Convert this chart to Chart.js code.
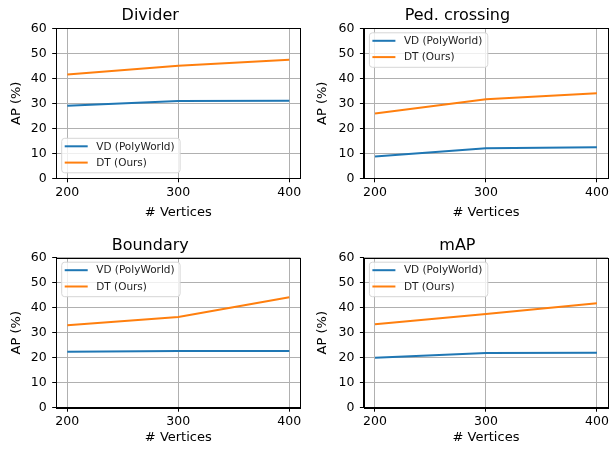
<!DOCTYPE html>
<html>
<head>
<meta charset="utf-8">
<script src="https://cdn.jsdelivr.net/npm/chart.js@4.4.1/dist/chart.umd.min.js"></script>
<style>
  html, body { margin: 0; padding: 0; background: #ffffff; }
  #wrap { position: relative; width: 612px; height: 450px; overflow: hidden; background: #fff; }
  canvas { position: absolute; }
</style>
</head>
<body>
<div id="wrap">
  <canvas id="c1" width="306" height="225" style="left:0px;top:0px;width:306px;height:225px"></canvas>
  <canvas id="c2" width="306" height="225" style="left:306px;top:0px;width:306px;height:225px"></canvas>
  <canvas id="c3" width="306" height="225" style="left:0px;top:225px;width:306px;height:225px"></canvas>
  <canvas id="c4" width="306" height="225" style="left:306px;top:225px;width:306px;height:225px"></canvas>
</div>
<script>
// ---- data ----
const vertices = [200, 300, 400];
const yTickValues = [0, 10, 20, 30, 40, 50, 60];
const seriesNames = ['VD (PolyWorld)', 'DT (Ours)'];
const panelTitles = ['Divider', 'Ped. crossing', 'Boundary', 'mAP'];

const dividerVD = [29.0, 30.9, 31.0];
const dividerDT = [41.5, 45.0, 47.4];
const pedVD = [8.7, 12.0, 12.4];
const pedDT = [25.9, 31.6, 34.0];
const boundaryVD = [22.4, 22.7, 22.7];
const boundaryDT = [33.0, 36.3, 44.2];
const mapVD = [20.0, 21.9, 22.0];
const mapDT = [33.4, 37.5, 41.8];

const xLabel = '# Vertices';
const yLabel = 'AP (%)';

// ---- styling ----
const FONT = 'DejaVu Sans';
const BLUE = '#1f77b4';
const ORANGE = '#ff7f0e';

const frameLegendPlugin = {
  id: 'frameLegend',
  afterDatasetsDraw(chart, args, opts) {
    const ctx = chart.ctx;
    const a = chart.chartArea;
    ctx.save();
    // all four spines
    ctx.strokeStyle = '#000';
    ctx.lineWidth = 1;
    ctx.strokeRect(Math.round(a.left) + 0.5, Math.round(a.top) + 0.5,
                   Math.round(a.right) - Math.round(a.left), Math.round(a.bottom) - Math.round(a.top));
    // legend
    const fs = 10.5;
    ctx.font = fs + 'px "' + FONT + '"';
    const ds = chart.data.datasets;
    let maxW = 0;
    ds.forEach(d => { maxW = Math.max(maxW, ctx.measureText(d.label).width); });
    const bw = 34.5 + maxW + 5.5;
    const bh = 34.5;
    const bx = a.left + 5.5;
    const by = opts.pos === 'lower' ? a.bottom - 5.5 - bh : a.top + 4.5;
    const r = 3;
    ctx.beginPath();
    ctx.moveTo(bx + r, by);
    ctx.lineTo(bx + bw - r, by);
    ctx.arcTo(bx + bw, by, bx + bw, by + r, r);
    ctx.lineTo(bx + bw, by + bh - r);
    ctx.arcTo(bx + bw, by + bh, bx + bw - r, by + bh, r);
    ctx.lineTo(bx + r, by + bh);
    ctx.arcTo(bx, by + bh, bx, by + bh - r, r);
    ctx.lineTo(bx, by + r);
    ctx.arcTo(bx, by, bx + r, by, r);
    ctx.closePath();
    ctx.fillStyle = 'rgba(255,255,255,0.8)';
    ctx.fill();
    ctx.strokeStyle = '#d6d6d6';
    ctx.lineWidth = 1;
    ctx.stroke();
    ds.forEach((d, i) => {
      const cy = by + 8 + i * 16.3;
      ctx.strokeStyle = d.borderColor;
      ctx.lineWidth = 2;
      ctx.beginPath();
      ctx.moveTo(bx + 3, cy);
      ctx.lineTo(bx + 26, cy);
      ctx.stroke();
      ctx.fillStyle = '#222';
      ctx.textBaseline = 'middle';
      ctx.textAlign = 'left';
      ctx.fillText(d.label, bx + 34.5, cy + 0.5);
    });
    ctx.restore();
  }
};

function toPoints(vals) {
  return vertices.map((v, i) => ({ x: v, y: vals[i] }));
}

function makePanel(id, title, vd, dt, legendPos, g) {
  const canvas = document.getElementById(id);
  const W = canvas.width, H = canvas.height;
  new Chart(canvas, {
    type: 'line',
    data: {
      datasets: [
        { label: seriesNames[0], data: toPoints(vd), borderColor: BLUE, backgroundColor: BLUE,
          borderWidth: 2, pointRadius: 0, tension: 0, fill: false },
        { label: seriesNames[1], data: toPoints(dt), borderColor: ORANGE, backgroundColor: ORANGE,
          borderWidth: 2, pointRadius: 0, tension: 0, fill: false }
      ]
    },
    options: {
      responsive: false,
      animation: false,
      devicePixelRatio: 1,
      layout: { padding: { left: 0, right: W - g.right, top: 0, bottom: 0 } },
      plugins: {
        legend: { display: false },
        tooltip: { enabled: false },
        title: {
          display: true, text: title, color: '#000',
          font: { family: FONT, size: 16, weight: 'normal' },
          padding: { top: g.titleTop, bottom: g.top - g.titleTop - 19.2 }
        },
        frameLegend: { pos: legendPos }
      },
      scales: {
        x: {
          type: 'linear', min: 190, max: 410,
          afterBuildTicks: s => { s.ticks = vertices.map(v => ({ value: v })); },
          afterFit: s => { s.height = H - g.bottom; },
          ticks: { color: '#000', font: { family: FONT, size: 12.5 }, padding: 3, maxRotation: 0, autoSkip: false },
          grid: { color: '#b0b0b0', lineWidth: 1, tickColor: '#000', tickLength: 4, tickWidth: 1 },
          border: { display: true, color: '#000', width: 1 },
          title: { display: true, text: xLabel, color: '#000', font: { family: FONT, size: 13 },
                   padding: { top: 0, bottom: 4.5 } }
        },
        y: {
          type: 'linear', min: 0, max: 60,
          afterBuildTicks: s => { s.ticks = yTickValues.map(v => ({ value: v })); },
          afterFit: s => { s.width = g.left; },
          ticks: { color: '#000', font: { family: FONT, size: 12.5 }, padding: 5.5 },
          grid: { color: '#b0b0b0', lineWidth: 1, tickColor: '#000', tickLength: 4, tickWidth: 1 },
          border: { display: true, color: '#000', width: 1 },
          title: { display: true, text: yLabel, color: '#000', font: { family: FONT, size: 13 },
                   padding: { top: 9, bottom: 0 } }
        }
      }
    },
    plugins: [frameLegendPlugin]
  });
}

makePanel('c1', panelTitles[0], dividerVD, dividerDT, 'lower',
  { left: 56.2, right: 300.4, top: 28.3, bottom: 178.3, titleTop: 6.3 });
makePanel('c2', panelTitles[1], pedVD, pedDT, 'upper',
  { left: 57.9, right: 302.8, top: 28.3, bottom: 178.3, titleTop: 6.3 });
makePanel('c3', panelTitles[2], boundaryVD, boundaryDT, 'upper',
  { left: 56.2, right: 300.4, top: 32.7, bottom: 182.7, titleTop: 11.3 });
makePanel('c4', panelTitles[3], mapVD, mapDT, 'upper',
  { left: 57.9, right: 302.8, top: 32.7, bottom: 182.7, titleTop: 11.3 });
</script>
</body>
</html>
